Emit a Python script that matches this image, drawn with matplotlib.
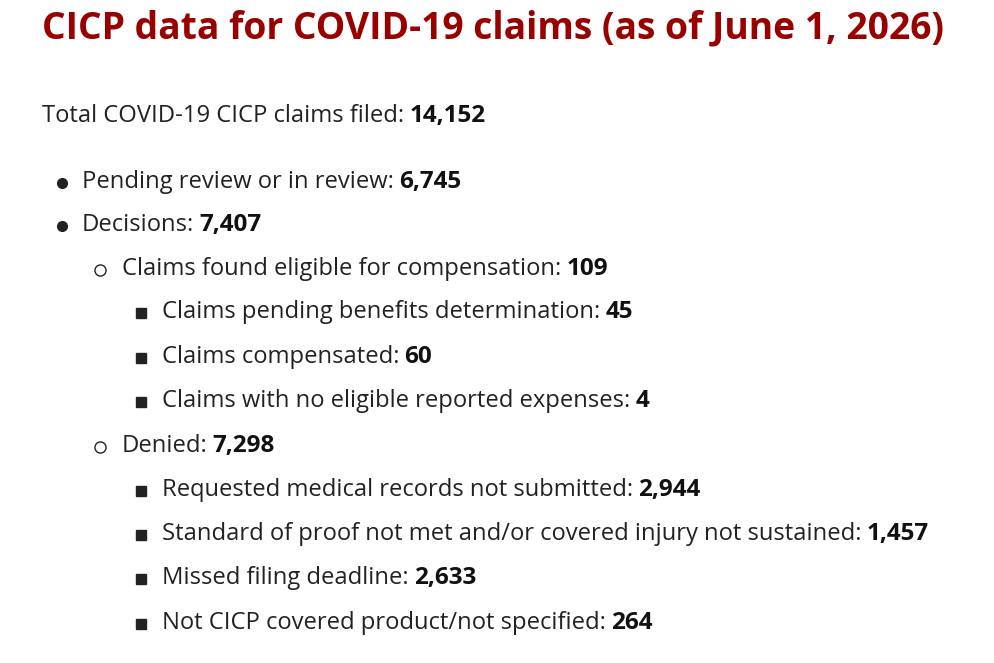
import matplotlib
matplotlib.use("Agg")
import matplotlib.pyplot as plt
from matplotlib.transforms import offset_copy

W, H = 995, 663
TITLE = "CICP data for COVID-19 claims (as of June 1, 2026)"

# label, value, nesting level (0 = no bullet)
labels = [
    "Total COVID-19 CICP claims filed:",
    "Pending review or in review:",
    "Decisions:",
    "Claims found eligible for compensation:",
    "Claims pending benefits determination:",
    "Claims compensated:",
    "Claims with no eligible reported expenses:",
    "Denied:",
    "Requested medical records not submitted:",
    "Standard of proof not met and/or covered injury not sustained:",
    "Missed filing deadline:",
    "Not CICP covered product/not specified:",
]
values = ["14,152", "6,745", "7,407", "109", "45", "60", "4",
          "7,298", "2,944", "1,457", "2,633", "264"]
levels = [0, 1, 1, 2, 3, 3, 3, 2, 3, 3, 3, 3]
rows_y = [116, 182, 225, 269, 312, 357, 401, 446, 490, 534, 578, 623]

text_x = {0: 42, 1: 82, 2: 122, 3: 162}
bullet_x = {1: 62, 2: 100, 3: 141}
bullet_mark = {1: ("o", "#222222", "#222222", 7),
               2: ("o", "white", "#222222", 8),
               3: ("s", "#222222", "#222222", 6.5)}

plt.rcParams["font.family"] = ["Open Sans", "DejaVu Sans"]
fig = plt.figure(figsize=(W / 100, H / 100), dpi=100)
ax = fig.add_axes([0, 0, 1, 1])
ax.set_xlim(0, W)
ax.set_ylim(H, 0)
ax.axis("off")

ax.text(42, 28, TITLE, fontsize=26.8, fontweight="bold", color="#990000",
        va="center", ha="left")

fig.canvas.draw()
renderer = fig.canvas.get_renderer()

for lab, val, lev, y in zip(labels, values, levels, rows_y):
    t = ax.text(text_x[lev], y, lab, fontsize=17.1, color="#222222",
                va="center", ha="left")
    ext = t.get_window_extent(renderer=renderer)
    tr = offset_copy(ax.transData, fig=fig, x=ext.width + 5, y=0, units="dots")
    ax.text(text_x[lev], y, val, fontsize=17.5, fontweight="bold", color="#111111",
            va="center", ha="left", transform=tr)
    if lev:
        m, fc, ec, s = bullet_mark[lev]
        ax.plot(bullet_x[lev], y + 1, marker=m, markersize=s,
                markerfacecolor=fc, markeredgecolor=ec, markeredgewidth=1)

fig.savefig("out.png", dpi=100)
